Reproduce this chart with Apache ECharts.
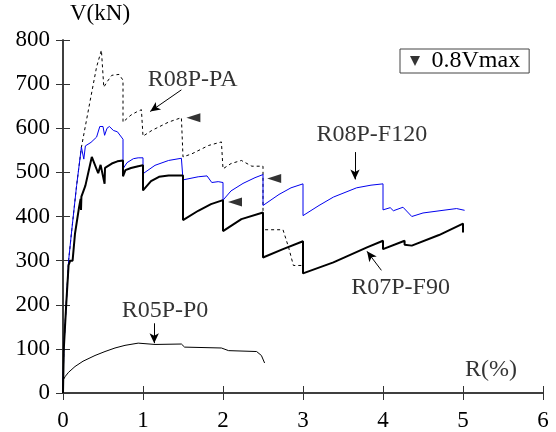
<!DOCTYPE html>
<html>
<head>
<meta charset="utf-8">
<script src="https://cdn.jsdelivr.net/npm/echarts@6/dist/echarts.min.js"></script>
<style>
  html, body { margin: 0; padding: 0; background: #fff; }
  #chart { width: 556px; height: 432px; }
</style>
</head>
<body>
<div id="chart"></div>
<script>
// R (%) / V (kN) pairs
const paX = [0, 0.01, 0.04, 0.07, 0.11, 0.17, 0.23, 0.34, 0.42, 0.48, 0.51, 0.55, 0.61, 0.7, 0.75, 0.75, 0.85, 0.92, 0.98, 1.0, 1.11, 1.32, 1.48, 1.5, 1.61, 1.82, 1.98, 2.0, 2.1, 2.23, 2.3, 2.36, 2.5, 2.5, 2.75, 2.82, 2.88, 3.0]
const paV = [0, 100, 200, 300, 370, 470, 557, 663, 739, 777, 693, 705, 720, 722, 709, 614, 630, 637, 642, 582, 595, 614, 624, 535, 542, 561, 569, 508, 520, 527, 520, 514, 514, 370, 370, 330, 289, 289]

const f120X = [0, 0.01, 0.04, 0.07, 0.11, 0.17, 0.23, 0.26, 0.28, 0.35, 0.42, 0.46, 0.5, 0.52, 0.55, 0.58, 0.63, 0.68, 0.73, 0.75, 0.75, 0.8, 0.88, 0.94, 1.0, 1.0, 1.15, 1.32, 1.48, 1.5, 1.5, 1.69, 1.8, 1.86, 1.94, 2.0, 2.0, 2.1, 2.25, 2.4, 2.5, 2.5, 2.7, 2.85, 3.0, 3.0, 3.2, 3.38, 3.67, 3.85, 4.0, 4.0, 4.09, 4.13, 4.25, 4.36, 4.5, 4.75, 4.92, 5.02]
const f120V = [0, 100, 200, 300, 370, 470, 557, 530, 560, 568, 580, 604, 604, 584, 600, 604, 595, 592, 580, 575, 508, 522, 531, 533, 533, 497, 516, 527, 532, 531, 483, 490, 492, 477, 479, 477, 437, 458, 475, 488, 495, 425, 450, 465, 474, 402, 425, 444, 465, 471, 474, 415, 420, 413, 421, 400, 408, 414, 418, 414]

const f90X = [0, 0.01, 0.04, 0.07, 0.09, 0.12, 0.15, 0.2, 0.22, 0.225, 0.23, 0.28, 0.36, 0.44, 0.47, 0.52, 0.525, 0.55, 0.61, 0.68, 0.75, 0.75, 0.78, 0.85, 0.94, 1.0, 1.0, 1.1, 1.2, 1.32, 1.5, 1.5, 1.69, 1.85, 2.0, 2.0, 2.23, 2.5, 2.5, 2.75, 3.0, 3.0, 3.38, 3.8, 4.0, 4.0, 4.27, 4.27, 4.36, 4.7, 5.0, 5.0]
const f90V = [0, 100, 200, 290, 300, 300, 361, 420, 440, 415, 445, 470, 535, 498, 517, 474, 510, 512, 520, 525, 527, 491, 505, 510, 514, 516, 459, 480, 490, 493, 493, 392, 413, 428, 437, 367, 394, 409, 307, 326, 344, 271, 296, 330, 345, 326, 345, 336, 334, 358, 384, 364]

const p0X = [0, 0, 0.03, 0.07, 0.15, 0.25, 0.4, 0.525, 0.65, 0.775, 0.94, 1.15, 1.48, 1.52, 1.98, 2.07, 2.42, 2.48, 2.52]
const p0V = [0, 29, 38, 47, 60, 72, 85, 94, 102, 108, 113, 110, 111, 104, 102, 96, 94, 85, 68]

// 0.8Vmax markers
const markX = [1.63, 2.64, 2.15]
const markV = [624, 486, 433]

// curve names and where they are written
const labelText = ['R08P-PA', 'R08P-F120', 'R07P-F90', 'R05P-P0', 'R(%)']
const labelX = [1.62, 3.86, 4.22, 1.275, 5.35]
const labelV = [711, 585, 239, 187, 53]

// leader arrows [fromX, fromV, toX, toV]
const arrows = [
  [1.48, 687, 1.09, 638],
  [3.65, 546, 3.65, 484],
  [3.98, 278, 3.8, 321],
  [1.14, 158, 1.14, 113]
]

const pairs = (xs, vs) => xs.map((x, i) => [x, vs[i]])
const serif = '"Liberation Serif", "Times New Roman", serif'

const chart = echarts.init(document.getElementById('chart'))

const frameAxis = {
  type: 'value',
  axisLine: { show: true, lineStyle: { color: '#333', width: 1.5 } },
  axisTick: { show: true, inside: true, length: 7, lineStyle: { color: '#333' } },
  splitLine: { show: false }
}

const option = {
  animation: false,
  backgroundColor: '#fff',
  grid: { left: 63, right: 13, top: 40, bottom: 39 },
  legend: {
    left: 400,
    top: 49,
    padding: [0, 9, 0, 10],
    borderColor: '#444',
    borderWidth: 1,
    itemWidth: 11,
    itemHeight: 10,
    data: [{ name: '0.8Vmax', icon: 'path://M0,0 L10,0 L5,10 Z' }],
    formatter: name => ' ' + name,
    textStyle: { fontFamily: serif, fontSize: 24, color: '#000' }
  },
  graphic: [
    { type: 'text', left: 70, top: 2, style: { text: 'V(kN)', font: '23px ' + serif, fill: '#000' } }
  ],
  xAxis: [
    {
      ...frameAxis,
      min: 0, max: 6, interval: 1,
      axisLabel: { margin: 16, fontFamily: serif, fontSize: 23, color: '#000' }
    },
    { ...frameAxis, position: 'top', min: 0, max: 6, interval: 1, axisLabel: { show: false } }
  ],
  yAxis: [
    {
      ...frameAxis,
      min: 0, max: 800, interval: 100,
      axisLabel: { margin: 13, padding: [0, 0, 6, 0], fontFamily: serif, fontSize: 23, color: '#000' }
    },
    { ...frameAxis, position: 'right', min: 0, max: 800, interval: 100, axisLabel: { show: false } }
  ],
  series: [
    {
      name: 'R08P-PA',
      type: 'line',
      data: pairs(paX, paV),
      symbol: 'none',
      lineStyle: { color: '#000', width: 1, type: [3, 3] }
    },
    {
      name: 'R08P-F120',
      type: 'line',
      data: pairs(f120X, f120V),
      symbol: 'none',
      lineStyle: { color: '#0000ee', width: 1 }
    },
    {
      name: 'R07P-F90',
      type: 'line',
      data: pairs(f90X, f90V),
      symbol: 'none',
      lineStyle: { color: '#000', width: 2 }
    },
    {
      name: 'R05P-P0',
      type: 'line',
      data: pairs(p0X, p0V),
      symbol: 'none',
      lineStyle: { color: '#000', width: 1 },
      markLine: {
        silent: true,
        symbol: ['none', 'arrow'],
        symbolSize: [7, 10],
        label: { show: false },
        lineStyle: { color: '#000', width: 1, type: 'solid' },
        data: arrows.map(a => [{ coord: [a[0], a[1]] }, { coord: [a[2], a[3]] }])
      }
    },
    {
      name: '0.8Vmax',
      type: 'scatter',
      data: pairs(markX, markV),
      symbol: 'path://M0,5 L10,0 L10,10 Z',
      symbolSize: [14, 9],
      itemStyle: { color: '#000' }
    },
    {
      name: 'labels',
      type: 'scatter',
      data: labelText.map((t, i) => [labelX[i], labelV[i], t]),
      symbolSize: 0,
      silent: true,
      label: {
        show: true,
        position: 'inside',
        formatter: p => p.data[2],
        fontFamily: serif,
        fontSize: 24,
        color: '#000'
      }
    }
  ]
}

chart.setOption(option)
</script>
</body>
</html>
